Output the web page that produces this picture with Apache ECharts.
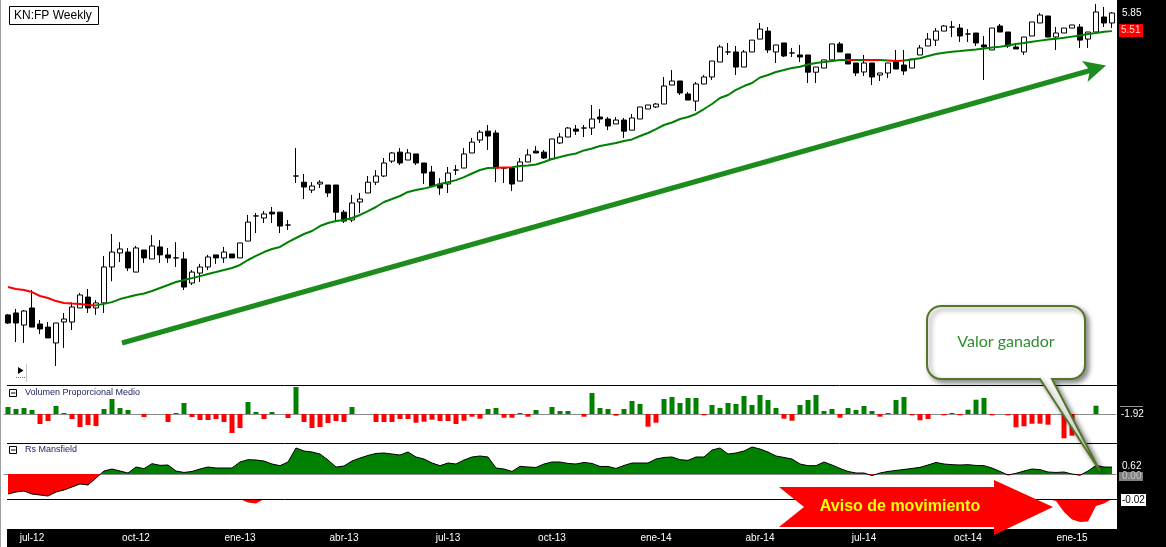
<!DOCTYPE html>
<html>
<head>
<meta charset="utf-8">
<title>KN:FP Weekly</title>
<script src="https://cdn.jsdelivr.net/npm/echarts@6/dist/echarts.min.js"></script>
<style>
html, body { margin: 0; padding: 0; background: #fff; }
#chart { width: 1166px; height: 547px; }
</style>
</head>
<body>
<div id="chart"></div>
<script>
var firstWeek = Date.UTC(2012, 5, 15);   // weeks dated by their Friday
var weekCount = 139;
var monthNames = ['ene', 'feb', 'mar', 'abr', 'may', 'jun', 'jul', 'ago', 'sep', 'oct', 'nov', 'dic'];
var tickLabels = ['jul-12', 'oct-12', 'ene-13', 'abr-13', 'jul-13', 'oct-13', 'ene-14', 'abr-14', 'jul-14', 'oct-14', 'ene-15'];

// [open, close, low, high]
var candles = [
  [2.160,2.103,2.096,2.167],[2.174,2.103,1.975,2.203],[2.089,2.188,1.969,2.195],[2.210,2.075,2.075,2.345],
  [2.096,2.062,2.028,2.124],[2.075,2.002,2.002,2.110],[1.969,2.103,1.825,2.103],[2.110,2.131,1.937,2.174],
  [2.110,2.217,2.055,2.253],[2.210,2.307,2.210,2.322],[2.291,2.210,2.174,2.353],[2.210,2.247,2.160,2.268],
  [2.247,2.530,2.174,2.624],[2.530,2.658,2.414,2.821],[2.650,2.685,2.572,2.746],[2.658,2.522,2.496,2.694],
  [2.488,2.694,2.488,2.712],[2.676,2.607,2.564,2.676],[2.598,2.712,2.598,2.811],[2.703,2.633,2.564,2.765],
  [2.633,2.607,2.564,2.694],[2.607,2.607,2.530,2.746],[2.598,2.368,2.345,2.658],[2.400,2.488,2.384,2.505],
  [2.480,2.530,2.408,2.556],[2.530,2.615,2.505,2.633],[2.633,2.607,2.556,2.633],[2.607,2.658,2.564,2.703],
  [2.641,2.607,2.607,2.641],[2.607,2.739,2.607,2.739],[2.756,2.934,2.756,3.004],[2.994,2.994,2.830,3.024],
  [2.974,3.014,2.925,3.043],[3.032,3.014,2.925,3.084],[3.032,2.896,2.830,3.032],[2.906,2.906,2.859,2.954],
  [3.416,3.416,3.338,3.746],[3.347,3.294,3.166,3.439],[3.261,3.305,3.230,3.347],[3.327,3.347,3.283,3.370],
  [3.316,3.230,3.187,3.316],[3.316,3.032,2.934,3.316],[3.032,2.944,2.925,3.053],[2.954,3.125,2.934,3.209],
  [3.135,3.166,3.024,3.230],[3.230,3.347,3.230,3.416],[3.347,3.416,3.316,3.483],[3.416,3.566,3.404,3.625],
  [3.588,3.686,3.566,3.696],[3.696,3.566,3.542,3.746],[3.601,3.686,3.601,3.733],[3.674,3.566,3.542,3.674],
  [3.566,3.450,3.327,3.566],[3.461,3.305,3.305,3.531],[3.327,3.283,3.209,3.393],[3.327,3.450,3.230,3.519],
  [3.484,3.484,3.427,3.542],[3.507,3.674,3.507,3.746],[3.686,3.820,3.686,3.873],[3.846,3.948,3.809,3.974],
  [3.961,3.898,3.723,4.042],[3.937,3.507,3.347,3.974],[3.507,3.507,3.338,3.507],[3.507,3.327,3.250,3.507],
  [3.359,3.578,3.359,3.625],[3.578,3.662,3.578,3.733],[3.708,3.686,3.686,3.771],[3.696,3.625,3.613,3.721],
  [3.613,3.860,3.613,3.860],[3.809,3.885,3.796,3.937],[3.885,4.002,3.885,4.015],[3.988,3.961,3.911,4.042],
  [4.002,4.002,3.885,4.042],[4.002,4.123,3.911,4.318],[4.150,4.123,4.069,4.261],[4.123,4.029,3.974,4.150],
  [4.056,4.109,4.056,4.150],[4.109,3.961,3.873,4.137],[3.974,4.137,3.974,4.192],[4.123,4.290,4.123,4.290],
  [4.261,4.318,4.261,4.318],[4.290,4.332,4.275,4.347],[4.332,4.597,4.332,4.736],[4.612,4.674,4.612,4.845],
  [4.674,4.493,4.463,4.674],[4.478,4.389,4.389,4.508],[4.374,4.628,4.233,4.659],[4.628,4.736,4.628,4.767],
  [4.736,4.992,4.690,4.992],[4.976,5.229,4.976,5.264],[5.144,5.144,5.093,5.299],[5.144,4.894,4.767,5.246],
  [4.894,5.144,4.894,5.178],[5.144,5.349,5.144,5.349],[5.367,5.548,5.367,5.660],[5.510,5.178,5.127,5.585],
  [5.144,5.264,4.960,5.264],[5.299,5.076,5.059,5.299],[5.127,5.127,5.059,5.212],[5.093,5.059,4.976,5.264],
  [5.093,4.812,4.643,5.093],[4.812,4.894,4.643,4.894],[4.878,5.011,4.878,5.011],[5.011,5.282,5.011,5.282],
  [5.282,5.144,5.144,5.317],[5.110,4.944,4.944,5.110],[4.960,4.799,4.752,4.960],[4.815,4.960,4.752,5.093],
  [4.960,4.736,4.612,4.960],[4.767,4.799,4.674,4.799],[4.799,4.960,4.720,4.960],[4.976,4.862,4.862,5.178],
  [4.927,4.831,4.767,5.178],[4.878,5.025,4.878,5.025],[5.093,5.212,5.093,5.264],[5.246,5.367,5.246,5.476],
  [5.349,5.511,5.246,5.566],[5.511,5.604,5.511,5.623],[5.585,5.585,5.404,5.697],[5.566,5.422,5.317,5.641],
  [5.458,5.458,5.317,5.548],[5.476,5.299,5.246,5.476],[5.264,5.229,4.690,5.422],[5.178,5.566,5.178,5.566],
  [5.604,5.494,5.494,5.641],[5.494,5.246,5.212,5.494],[5.229,5.195,5.195,5.299],[5.144,5.404,5.093,5.404],
  [5.422,5.679,5.422,5.679],[5.660,5.811,5.660,5.850],[5.792,5.404,5.404,5.792],[5.404,5.476,5.178,5.585],
  [5.476,5.566,5.476,5.566],[5.566,5.623,5.566,5.623],[5.585,5.349,5.212,5.641],[5.367,5.494,5.212,5.494],
  [5.494,5.869,5.494,6.027],[5.773,5.660,5.585,5.967],[5.660,5.850,5.566,5.869]
];

var movingAvg = [
  2.368,2.353,2.345,2.329,2.299,2.284,2.261,2.247,2.243,2.240,2.232,2.229,2.240,2.253,2.276,2.291,
  2.307,2.318,2.337,2.361,2.384,2.408,2.423,2.439,2.455,2.472,2.488,2.505,2.522,2.547,2.589,2.624,
  2.658,2.685,2.703,2.746,2.784,2.821,2.849,2.896,2.925,2.944,2.954,2.974,3.004,3.043,3.084,3.135,
  3.166,3.198,3.241,3.261,3.277,3.300,3.327,3.347,3.370,3.404,3.444,3.484,3.507,3.509,3.512,3.515,
  3.531,3.537,3.548,3.578,3.613,3.637,3.662,3.680,3.717,3.740,3.771,3.790,3.809,3.835,3.854,3.898,
  3.937,3.988,4.042,4.076,4.123,4.150,4.192,4.261,4.332,4.419,4.463,4.538,4.597,4.643,4.728,4.767,
  4.815,4.846,4.878,4.899,4.935,4.960,4.976,4.993,5.009,5.009,5.009,5.009,5.009,5.009,5.001,4.993,
  5.001,5.017,5.037,5.076,5.110,5.132,5.148,5.161,5.175,5.187,5.204,5.221,5.235,5.256,5.282,5.299,
  5.320,5.340,5.358,5.371,5.389,5.411,5.431,5.457,5.476,5.497,5.510
];
// stretches where the average is drawn red (price under it)
var maRedRanges = [[-1, 11.1], [61.4, 63.2], [104.5, 105.9], [106.7, 108.8], [110, 111.7]];

var volumeProp = [
  7,5,6,4,-10,-7,8,1,-5,-13,-11,-12,5,15,6,4,0,-3,0,0,-8,1,11,-3,-6,-6,-5,-8,-19,-14,12,2,-5,2,0,-4,27,
  -8,-14,-13,-9,-7,-8,7,0,0,-8,-8,-8,-5,-5,-8.7,-7.7,-5.7,-7,-7,-10,-6.7,-2.7,-4.7,5,6,-3.7,-3.7,1,-2.7,
  4,0,7,3,3,0,-2.7,21,6,5,-1.7,5,13,10,-12.7,-8.7,15,17,11,16,16,-1.3,9,6,11,10,18,9,19,14,6,-4.7,-6.7,
  9,14,19,3,5,-3.7,6,4,8,3,-2.7,1,14,17,-1.3,-6.3,-5,0,-1.3,1,-1.3,4.3,14.3,16,-1.3,0,-1.3,-13.3,-12.3,
  -9.7,-9.7,-10.7,0,-24.3,-21.7,0,0,8.3,0,0
];

var rsMansfield = [
  -1.80,-1.62,-1.53,-1.80,-1.89,-1.98,-1.62,-1.44,-1.17,-0.90,-0.99,-0.36,0.27,0.45,0.27,0.09,0.63,0.48,
  0.93,0.78,0.81,0.27,0.14,0.23,0.45,0.63,0.54,0.54,0.54,1.08,1.29,1.26,1.17,0.90,0.75,1.08,2.34,2.07,
  1.98,1.80,1.26,0.63,0.72,1.17,1.44,1.67,1.85,1.89,1.80,1.71,1.98,1.53,1.35,0.99,0.75,0.99,0.90,1.26,
  1.53,1.62,1.53,0.54,0.45,0.23,0.69,0.63,0.59,0.90,1.08,1.08,0.95,0.90,1.04,0.95,0.68,0.68,0.50,0.77,
  0.99,0.99,0.99,1.35,1.49,1.53,1.29,1.23,1.53,1.53,2.16,2.34,1.80,1.89,2.07,2.43,2.25,1.98,1.62,1.49,
  1.35,0.90,0.75,0.75,1.08,0.81,0.50,0.23,0.09,0.09,-0.14,0.09,0.23,0.32,0.41,0.50,0.60,0.81,1.04,0.90,
  0.84,0.81,0.84,0.77,0.75,0.54,0.23,-0.09,0.06,0.27,0.45,0.39,0.18,0.14,0.18,0.00,-0.11,0.27,0.77,
  0.63,0.62
];

var rsAviso = [];
for (var k = 0; k < weekCount; k++) rsAviso.push(0);
rsAviso[30] = -0.35; rsAviso[31] = -0.45;
rsAviso[131] = -0.2; rsAviso[132] = -1.3; rsAviso[133] = -2.05; rsAviso[134] = -2.3;
rsAviso[135] = -2.25; rsAviso[136] = -0.7; rsAviso[137] = -0.45;

var FONT = 'Liberation Sans';
var GREEN = '#008000', RED = '#ff0000';

var weeks = [];
for (var i = 0; i < weekCount; i++) {
  weeks.push(new Date(firstWeek + i * 7 * 86400000).toISOString().slice(0, 10));
}
function monthLabel(day) {
  return monthNames[+day.slice(5, 7) - 1] + '-' + day.slice(2, 4);
}
function isTick(index) {
  var lab = monthLabel(weeks[index]);
  return tickLabels.indexOf(lab) >= 0 && (index === 0 || monthLabel(weeks[index - 1]) !== lab);
}

var maPieces = [];
for (var r = 0; r < maRedRanges.length; r++) {
  maPieces.push({ gte: maRedRanges[r][0], lte: maRedRanges[r][1], color: RED });
  var next = r + 1 < maRedRanges.length ? maRedRanges[r + 1][0] : 1000;
  maPieces.push({ gt: maRedRanges[r][1], lt: next, color: GREEN });
}

var chart = echarts.init(document.getElementById('chart'));

function xAx(idx, extra) {
  var ax = {
    type: 'category', gridIndex: idx, data: weeks, boundaryGap: true,
    axisTick: { show: false }, axisLabel: { show: false }, splitLine: { show: false },
    axisLine: { show: false }
  };
  for (var key in extra) ax[key] = extra[key];
  return ax;
}
function panel(top, height) {
  return { left: 4, width: 1112, top: top, height: height, outerBoundsMode: 'none' };
}

chart.setOption({
  animation: false,
  backgroundColor: '#fff',
  grid: [panel(0, 385), panel(385, 58), panel(443, 56), panel(499, 30)],
  xAxis: [
    xAx(0, {}),
    xAx(1, { axisLine: { show: true, onZero: true, lineStyle: { color: '#8c8c8c', width: 1 } } }),
    xAx(2, { axisLine: { show: true, onZero: true, lineStyle: { color: '#8c8c8c', width: 1 } } }),
    xAx(3, {
      z: 10,
      axisLabel: {
        show: true, color: '#fff', fontSize: 10, fontFamily: FONT, margin: 4,
        interval: function (index) { return isTick(index); },
        formatter: function (value, index) { return isTick(index) ? monthLabel(value) : ''; }
      }
    })
  ],
  yAxis: [
    { type: 'log', logBase: 10, gridIndex: 0, min: 1.714, max: 6.106, show: false },
    { type: 'value', gridIndex: 1, min: -29, max: 29, show: false },
    { type: 'value', gridIndex: 2, min: -2.25, max: 2.79, show: false },
    { type: 'value', gridIndex: 3, min: -3, max: 0, show: false }
  ],
  visualMap: [
    { type: 'piecewise', show: false, seriesIndex: 1, dimension: 0, pieces: maPieces },
    { type: 'piecewise', show: false, seriesIndex: 3, dimension: 1,
      pieces: [{ gte: -10, lt: 0, color: RED }, { gte: 0, lte: 10, color: GREEN }] }
  ],
  series: [
    {
      name: 'KN:FP', type: 'candlestick', xAxisIndex: 0, yAxisIndex: 0, barWidth: 6,
      itemStyle: { color: '#fff', color0: '#000', borderColor: '#000', borderColor0: '#000',
                   borderColorDoji: '#000', borderWidth: 1 },
      data: candles
    },
    {
      name: 'Media', type: 'line', xAxisIndex: 0, yAxisIndex: 0, z: 3,
      symbol: 'none', lineStyle: { width: 2 }, data: movingAvg
    },
    {
      name: 'Volumen Proporcional Medio', type: 'bar', xAxisIndex: 1, yAxisIndex: 1, barWidth: 5,
      itemStyle: { color: function (p) { return p.value >= 0 ? GREEN : RED; } },
      data: volumeProp
    },
    {
      name: 'Rs Mansfield', type: 'line', xAxisIndex: 2, yAxisIndex: 2, symbol: 'none',
      lineStyle: { color: '#000', width: 1 }, areaStyle: { opacity: 1 }, data: rsMansfield
    },
    {
      name: 'Aviso', type: 'line', xAxisIndex: 3, yAxisIndex: 3, symbol: 'none',
      lineStyle: { width: 0 }, areaStyle: { color: RED, opacity: 1 }, data: rsAviso
    }
  ]
});

// side labels follow the axes
var last = weekCount - 1;
var yClose = chart.convertToPixel({ yAxisIndex: 0 }, candles[last][1]);
var yMa = chart.convertToPixel({ yAxisIndex: 0 }, movingAvg[last]);
var yVol0 = chart.convertToPixel({ yAxisIndex: 1 }, 0);
var yRs = chart.convertToPixel({ yAxisIndex: 2 }, rsMansfield[last]);
var yRs0 = chart.convertToPixel({ yAxisIndex: 2 }, 0);
var yAv0 = chart.convertToPixel({ yAxisIndex: 3 }, 0);

function txt(x, y, s, fill, font, align) {
  return { type: 'text', z: 120, style: { text: s, x: x, y: y, fill: fill, font: font || ('10px ' + FONT),
           textAlign: align || 'left', textVerticalAlign: 'middle' } };
}
function hline(x1, x2, y, color) {
  return { type: 'line', z: 60, shape: { x1: x1, y1: y, x2: x2, y2: y }, style: { stroke: color, lineWidth: 1 } };
}
function titleBox(y, s) {
  return [
    { type: 'rect', z: 60, shape: { x: 9.5, y: y - 3.5, width: 7, height: 7 }, style: { fill: '#fff', stroke: '#000', lineWidth: 1 } },
    hline(11, 15.5, y, '#000'),
    txt(25, y, s, '#1a1f5c', '9px ' + FONT)
  ];
}
// rounded box with a pointer, as a point list
function calloutOutline(x0, y0, x1, y1, rad, tailL, tailR, tip) {
  var pts = [];
  function arc(cx, cy, a0) {
    for (var s = 0; s <= 6; s++) {
      var a = (a0 + s * 15) * Math.PI / 180;
      pts.push([cx + rad * Math.cos(a), cy + rad * Math.sin(a)]);
    }
  }
  arc(x0 + rad, y0 + rad, 180);
  arc(x1 - rad, y0 + rad, 270);
  arc(x1 - rad, y1 - rad, 0);
  pts.push([tailR, y1], tip, [tailL, y1]);
  arc(x0 + rad, y1 - rad, 90);
  return pts;
}

var graphics = [
  { type: 'rect', z: -5, shape: { x: 1117, y: 0, width: 49, height: 547 }, style: { fill: '#000' } },
  { type: 'rect', z: -5, shape: { x: 7, y: 529, width: 1159, height: 18 }, style: { fill: '#000' } },
  { type: 'line', z: 60, shape: { x1: 0.5, y1: 0, x2: 0.5, y2: 547 }, style: { stroke: '#a0a0a0', lineWidth: 1 } },
  hline(7, 1117, 385.5, '#000'),
  hline(7, 1117, 443.5, '#000'),
  hline(7, 1117, 499.5, '#000'),
  { type: 'rect', z: 60, shape: { x: 9.5, y: 6.5, width: 89, height: 18 }, style: { fill: '#fff', stroke: '#000', lineWidth: 1 } },
  txt(14, 16, 'KN:FP Weekly', '#000', '12px ' + FONT),
  { type: 'polygon', z: 60, shape: { points: [[18, 367], [18, 374], [23.5, 370.5]] }, style: { fill: '#000' } },
  { type: 'line', z: 60, shape: { x1: 16, y1: 377.5, x2: 25, y2: 377.5 }, style: { stroke: '#777', lineWidth: 1, lineDash: [1, 1] } },
  { type: 'line', z: 60, shape: { x1: 26.5, y1: 364, x2: 26.5, y2: 382 }, style: { stroke: '#c8c8c8', lineWidth: 1 } }
];
graphics = graphics.concat(titleBox(393, 'Volumen Proporcional Medio'), titleBox(450, 'Rs Mansfield'));

// green trend arrow
graphics.push(
  { type: 'line', z: 100, shape: { x1: 122, y1: 343, x2: 1090, y2: 70.5 }, style: { stroke: '#1c8c1c', lineWidth: 5 } },
  { type: 'polygon', z: 100, shape: { points: [[1106, 65.5], [1082, 61], [1090, 70.5], [1087.5, 82]] }, style: { fill: '#1c8c1c' } }
);

// callout
graphics.push(
  { type: 'polygon', z: 100,
    shape: { points: calloutOutline(927, 306, 1085, 379, 14, 1040, 1052, [1100, 471]) },
    style: { fill: '#fff', stroke: '#55752b', lineWidth: 2, shadowBlur: 5, shadowColor: 'rgba(0,0,0,0.45)', shadowOffsetX: 3, shadowOffsetY: 3 } },
  txt(1006, 342, 'Valor ganador', '#2f8f2f', '16px Lato', 'center')
);

// red warning arrow
graphics.push(
  { type: 'polygon', z: 100,
    shape: { points: [[779, 487], [994, 487], [994, 480], [1053, 507], [994, 535], [994, 527], [779, 527], [804, 507]] },
    style: { fill: RED } },
  txt(900, 507, 'Aviso de movimiento', '#ffff00', 'bold 16px ' + FONT, 'center')
);

// right-hand value labels
graphics.push(
  txt(1122, yClose, candles[last][1].toFixed(2), '#fff'),
  { type: 'rect', z: 110, shape: { x: 1119, y: yMa - 7, width: 24, height: 13 }, style: { fill: RED } },
  txt(1121, yMa - 0.5, movingAvg[last].toFixed(2), '#ffd0d0'),
  hline(1120, 1143, yVol0 - 7.5, '#9a9a9a'),
  txt(1121, yVol0, '-1.92', '#fff'),
  { type: 'rect', z: 110, shape: { x: 1119, y: yRs0 - 2, width: 24, height: 9 }, style: { fill: '#808080' } },
  txt(1122, yRs0 + 2.5, '0.00', '#c8c8c8'),
  { type: 'rect', z: 115, shape: { x: 1119, y: yRs - 6, width: 24, height: 10 }, style: { fill: '#000' } },
  txt(1122, yRs - 1, rsMansfield[last].toFixed(2), '#fff'),
  { type: 'rect', z: 110, shape: { x: 1121, y: yAv0 - 5, width: 25, height: 12 }, style: { fill: '#fff' } },
  txt(1122, yAv0 + 1, '-0.02', '#000')
);

chart.setOption({ graphic: graphics });
</script>
</body>
</html>
